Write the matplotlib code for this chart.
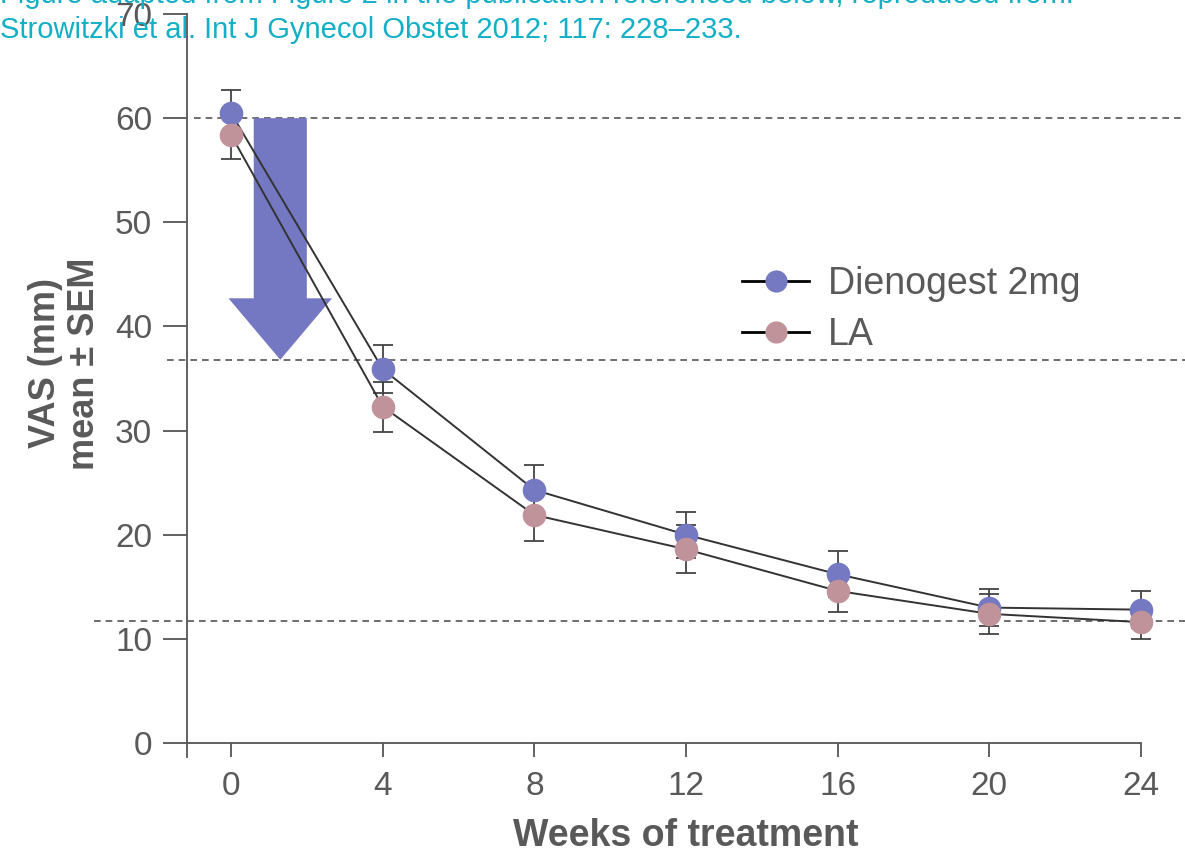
import matplotlib.pyplot as plt
import numpy as np

# data
weeks = [0, 4, 8, 12, 16, 20, 24]
dng_mean = [60.5, 35.9, 24.3, 20.0, 16.2, 13.0, 12.8]
dng_sem = [2.2, 2.3, 2.4, 2.2, 2.2, 1.8, 1.8]
la_mean = [58.4, 32.3, 21.9, 18.6, 14.6, 12.4, 11.6]
la_sem = [2.3, 2.4, 2.5, 2.3, 2.0, 1.9, 1.6]
ref_levels = [60, 36.8, 11.7]
ref_starts = [-0.97, -1.68, -3.6]   # where each dashed line begins (weeks)
yticks = [0, 10, 20, 30, 40, 50, 60, 70]

grey = '#595959'
blue = '#7479C2'
pink = '#C0939A'

plt.rcParams['font.family'] = ['Liberation Sans', 'DejaVu Sans']

fig = plt.figure(figsize=(11.85, 8.55), dpi=100)
ax = fig.add_axes([0.1578, 0.1146, 0.8422, 0.869])

for lev, x0 in zip(ref_levels, ref_starts):
    ax.plot([x0, 25.2], [lev, lev], ls=(0, (4, 3)), color='#555555', lw=1.2,
            clip_on=False, zorder=1)

# big arrow showing the drop
ax.arrow(1.3, 60, 0, -23.2, width=1.4, head_width=2.73, head_length=5.9,
         length_includes_head=True, color='#7477C2', lw=0, zorder=2)

for m, s, c, lab in [(dng_mean, dng_sem, blue, 'Dienogest 2mg'),
                     (la_mean, la_sem, pink, 'LA')]:
    ax.errorbar(weeks, m, yerr=s, fmt='none', ecolor='#444444', elinewidth=1.3,
                capsize=7, capthick=1.3, zorder=3)
    ax.plot(weeks, m, '-', color='#333333', lw=1.4, zorder=4)
    ax.plot(weeks, m, 'o', color=c, ms=17, mec='none', zorder=5)
    ax.plot([], [], '-o', color='black', mfc=c, mec='none', ms=16, lw=2, label=lab)

ax.set_xlim(-1.16, 25.16)
ax.set_ylim(-1.35, 70)
ax.spines['right'].set_visible(False)
ax.spines['top'].set_visible(False)
ax.spines['bottom'].set_position(('data', 0))
ax.spines['bottom'].set_bounds(-1.16, 24)
for sp in ['left', 'bottom']:
    ax.spines[sp].set_color('#555555')
    ax.spines[sp].set_linewidth(1.3)

ax.set_xticks(weeks)
ax.set_yticks(yticks)
ax.tick_params(axis='y', length=17, width=1.3, color='#555555', labelsize=24,
               labelcolor=grey, pad=8)
ax.tick_params(axis='x', length=10, width=1.3, color='#555555', labelsize=24,
               labelcolor=grey, pad=10)

ax.set_xlabel('Weeks of treatment', fontsize=27, fontweight='bold', color=grey,
              labelpad=12)
fig.text(0.055, 0.575, 'VAS (mm)\nmean \u00b1 SEM', rotation=90, ha='center',
         va='center', fontsize=26, fontweight='bold', color=grey,
         linespacing=1.15)

fig.legend(loc='center left', bbox_to_anchor=(0.626, 0.638), frameon=False,
           fontsize=27, handlelength=1.8, handletextpad=0.5, labelspacing=0.42,
           borderpad=0, borderaxespad=0, labelcolor=grey)

cyan = '#12AFC6'
fig.text(0.0, 1 - 3 / 855, 'Figure adapted from Figure 2 in the publication referenced below, reproduced from:',
         color=cyan, fontsize=21, va='baseline')
fig.text(0.0, 1 - 38 / 855, 'Strowitzki et al. Int J Gynecol Obstet 2012; 117: 228\u2013233.',
         color=cyan, fontsize=21, va='baseline')

fig.savefig('out.png', dpi=100)
